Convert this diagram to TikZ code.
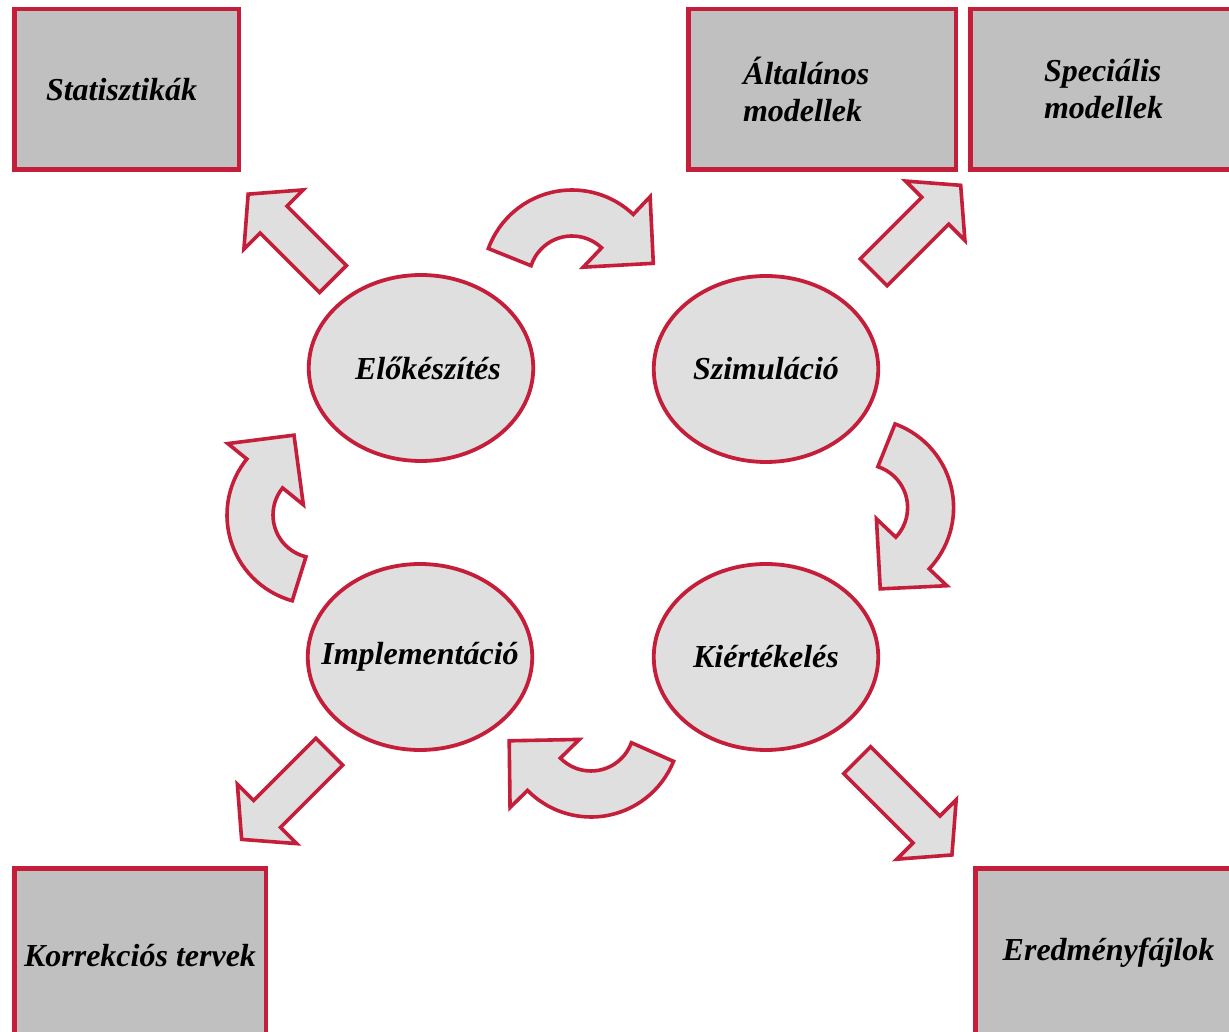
\documentclass[tikz,border=0pt]{standalone}
\usepackage{fontspec}
\setmainfont{Liberation Serif}
\usetikzlibrary{shapes.geometric}
\definecolor{frame}{HTML}{C41E3A}
\definecolor{boxgray}{HTML}{C0C0C0}
\definecolor{phasegray}{HTML}{DFDFDF}
% straight block arrow: tail x, tail y, angle, length
\newcommand\blockarrow[4]{%
  \begin{scope}[shift={(#1,#2)},rotate=#3]
    \draw[arrowshape] (0,-19) -- ({#4-36},-19) -- ({#4-36},-42) -- (#4,0)
      -- ({#4-36},42) -- ({#4-36},19) -- (0,19) -- cycle;
  \end{scope}}
% bent block arrow: centre x, centre y, angle
\newcommand\bentarrow[3]{%
  \begin{scope}[shift={(#1,#2)},rotate=#3]
    \draw[arrowshape] (160:89) arc[start angle=160,end angle=46.5,radius=89]
      -- (46.5:113.5) -- (10.9:82.8) -- (46.5:16.3) -- (46.5:43)
      arc[start angle=46.5,end angle=162,radius=43] -- cycle;
  \end{scope}}

\begin{document}
\begin{tikzpicture}[x=1pt,y=1pt,
    every node/.style={font=\fontsize{32}{37}\selectfont\bfseries\itshape},
    box/.style={draw=frame,line width=4.5pt,fill=boxgray,inner sep=0pt},
    phase/.style={ellipse,draw=frame,line width=3.8pt,fill=phasegray,
      minimum width=224.5pt,minimum height=186pt},
    arrowshape/.style={draw=frame,line width=3.6pt,fill=phasegray}]
  \useasboundingbox (0,0) rectangle (1229,1031);

  % result boxes
  \node[box,minimum width=224.5pt,minimum height=160.5pt,text width=161pt,align=left]
    (stat) at (126.5,941.5) {Statisztikák};
  \node[box,minimum width=267.5pt,minimum height=160.5pt,text width=158pt,align=left]
    (alt) at (822,941.5) {Általános\\modellek};
  \node[box,minimum width=267.5pt,minimum height=160.5pt,text width=120pt,align=left]
    (spec) at (1104,941.5) {Speciális\\modellek};
  \node[box,minimum width=251.5pt,minimum height=175pt]
    (korr) at (140,75) {Korrekciós tervek};
  \node[box,minimum width=266.5pt,minimum height=168pt]
    (ered) at (1108.5,78.5) {Eredményfájlok};

  % phases
  \node[phase] (elo) at (421,663) {};
  \node (elo-t) at ([xshift=7pt]elo.center) {Előkészítés};
  \node[phase] (szim) at (766,662) {};
  \node (szim-t) at (szim.center) {Szimuláció};
  \node[phase] (impl) at (420,374) {};
  \node (impl-t) at (impl.center) {Implementáció};
  \node[phase] (kiert) at (766,374) {};
  \node (kiert-t) at (kiert.center) {Kiértékelés};

  % cycle
  \bentarrow{572}{752}{0}
  \bentarrow{864.6}{523.4}{-90}
  \bentarrow{591}{303}{178}
  \bentarrow{316}{516}{94.5}

  % outputs
  \blockarrow{333}{752}{135}{120}
  \blockarrow{873.7}{758.7}{45}{123}
  \blockarrow{329.3}{279.3}{225}{124}
  \blockarrow{857.2}{270.8}{-45}{134}
\end{tikzpicture}
\end{document}
